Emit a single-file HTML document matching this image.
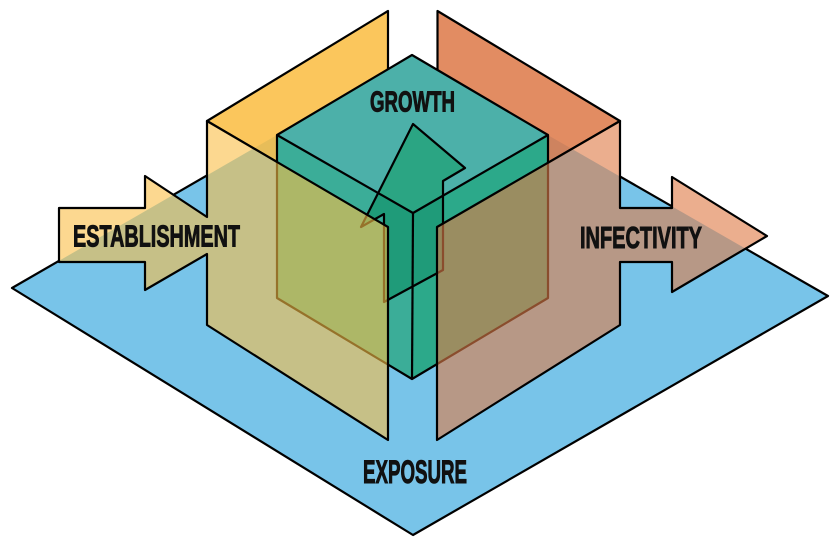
<!DOCTYPE html>
<html>
<head>
<meta charset="utf-8">
<style>
  html, body { margin: 0; padding: 0; background: #ffffff; }
  svg { display: block; }
  .lbl { font-family: "Liberation Sans Narrow", "Liberation Sans", sans-serif; font-weight: bold; fill: #111; stroke: #111; stroke-width: 1; }
</style>
</head>
<body>
<svg width="840" height="545" viewBox="0 0 840 545" xmlns="http://www.w3.org/2000/svg">
  <defs>
    <clipPath id="topface"><polygon points="412,55 548,135 413,213 277,135"/></clipPath>
    <clipPath id="sidefaces"><polygon points="277,135 413,213 548,135 548,298 412,379 277,298"/></clipPath>
    <mask id="dmask">
      <rect x="0" y="0" width="840" height="545" fill="#fff"/>
      <polygon fill="#000" points="207,121 388,227 388,440 207,325 207,254 145,290 145,262 59,262 59,208 145,208 145,176 207,217"/>
      <polygon fill="#000" points="437,227 620,121 620,208 672,208 672,177 767,236 672,292 672,262 620,262 620,325 437,440"/>
      <polygon fill="#000" points="207,121 388,11 388,227"/>
      <polygon fill="#000" points="437.5,11 620,121 437.5,227"/>
      <polygon fill="#000" points="412,55 548,135 548,298 412,379 277,298 277,135"/>
    </mask>
  </defs>

  <!-- Exposure floor -->
  <polygon points="412,57 828,296 413,535 12,288" fill="#78C4E9"/>
  <polygon points="412,57 828,296 413,535 12,288" fill="none" stroke="#000" stroke-width="2.2" stroke-linejoin="round" mask="url(#dmask)"/>

  <!-- back bands -->
  <polygon points="207,121 388,11 388,227" fill="rgb(250,188,64)" fill-opacity="0.85" stroke="#000" stroke-width="2.2" stroke-linejoin="round"/>
  <polygon points="437.5,11 620,121 437.5,227" fill="rgb(221,120,71)" fill-opacity="0.85" stroke="#000" stroke-width="2.2" stroke-linejoin="round"/>

  <!-- cube faces -->
  <polygon points="412,55 548,135 413,213 277,135" fill="#4CB0A9"/>
  <polygon points="277,135 413,213 412,379 277,298" fill="#3BAD98"/>
  <polygon points="413,213 548,135 548,298 412,379" fill="#2CA98A"/>

  <!-- growth arrow -->
  <polygon points="413,124 465,168 443,181 443,270 384,302 384,214 361,227" fill="#2BA583" clip-path="url(#topface)"/>
  <polygon points="413,124 465,168 443,181 443,270 384,302 384,214 361,227" fill="#1F9B79" clip-path="url(#sidefaces)"/>
  <polygon points="413,124 465,168 443,181 443,270 384,302 384,214 361,227" fill="none" stroke="#000" stroke-width="2.2" stroke-linejoin="round"/>

  <!-- cube edges -->
  <polygon points="412,55 548,135 548,298 412,379 277,298 277,135" fill="none" stroke="#000" stroke-width="2.2" stroke-linejoin="round"/>
  <polyline points="277,135 413,213 548,135" fill="none" stroke="#000" stroke-width="2.2" stroke-linejoin="round"/>
  <line x1="413" y1="213" x2="412" y2="379" stroke="#000" stroke-width="2.2"/>

  <!-- establishment panel + arrow -->
  <polygon points="207,121 388,227 388,440 207,325 207,254 145,290 145,262 59,262 59,208 145,208 145,176 207,217" fill="rgb(250,190,70)" fill-opacity="0.6" stroke="#000" stroke-width="2.2" stroke-linejoin="round"/>

  <!-- infectivity panel + arrow -->
  <polygon points="437,227 620,121 620,208 672,208 672,177 767,236 672,292 672,262 620,262 620,325 437,440" fill="rgb(223,125,73)" fill-opacity="0.62" stroke="#000" stroke-width="2.2" stroke-linejoin="round"/>

  <!-- labels -->
  <text class="lbl" x="73" y="246.7" font-size="31" textLength="167" lengthAdjust="spacingAndGlyphs">ESTABLISHMENT</text>
  <text class="lbl" x="580" y="248" font-size="31" textLength="122" lengthAdjust="spacingAndGlyphs">INFECTIVITY</text>
  <text class="lbl" x="370" y="111.5" font-size="29" textLength="85" lengthAdjust="spacingAndGlyphs">GROWTH</text>
  <text class="lbl" x="363" y="483" font-size="32" textLength="104" lengthAdjust="spacingAndGlyphs">EXPOSURE</text>
</svg>
</body>
</html>
